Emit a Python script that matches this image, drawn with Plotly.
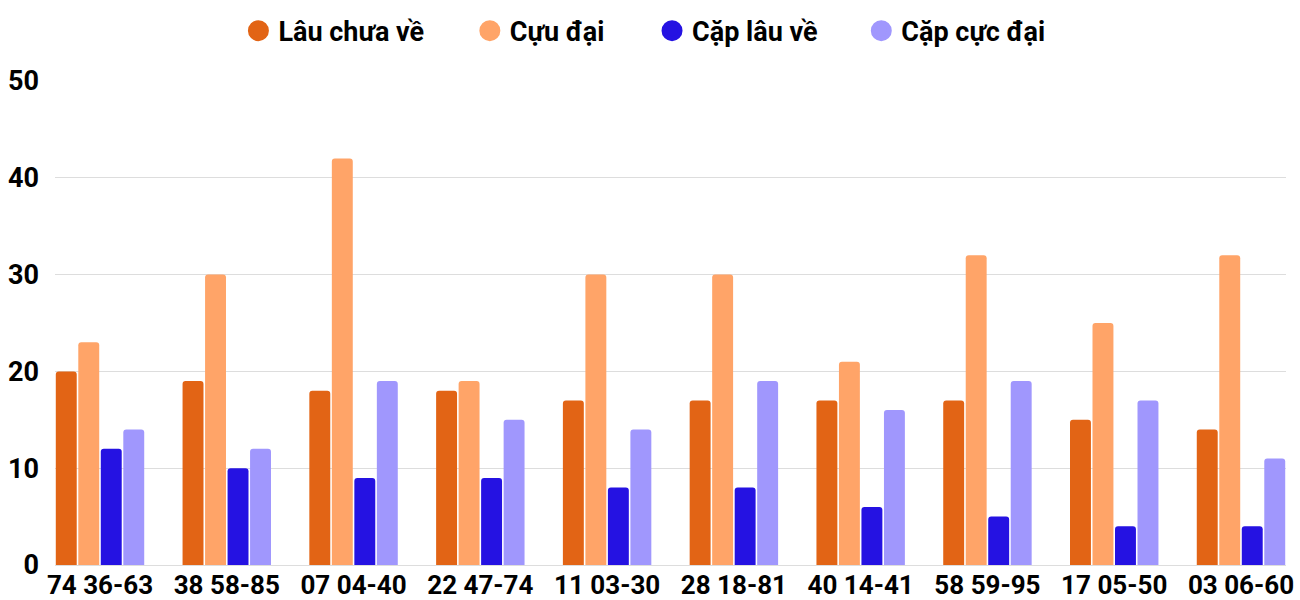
import plotly.graph_objects as go

categories = ["74 36-63", "38 58-85", "07 04-40", "22 47-74", "11 03-30",
              "28 18-81", "40 14-41", "58 59-95", "17 05-50", "03 06-60"]
lau_chua_ve = [20, 19, 18, 18, 17, 17, 17, 17, 15, 14]
cuc_dai = [23, 30, 42, 19, 30, 30, 21, 32, 25, 32]
cap_lau_ve = [12, 10, 9, 9, 8, 8, 6, 5, 4, 4]
cap_cuc_dai = [14, 12, 19, 15, 14, 19, 16, 19, 17, 11]

series_names = ["Lâu chưa về", "Cựu đại", "Cặp lâu về", "Cặp cực đại"]
series_values = [lau_chua_ve, cuc_dai, cap_lau_ve, cap_cuc_dai]
colors = ["#E26415", "#FFA468", "#2512E2", "#A097FD"]
legend_ids = ["legend", "legend2", "legend3", "legend4"]
legend_x = [0.149, 0.337, 0.485, 0.655]

FONT = "Roboto"

fig = go.Figure()
for name, vals, col in zip(series_names, series_values, colors):
    fig.add_trace(go.Bar(
        x=categories, y=vals, name=name, marker_color=col,
        marker_line_width=0, showlegend=False,
    ))
for name, col, lid in zip(series_names, colors, legend_ids):
    fig.add_trace(go.Scatter(
        x=[None], y=[None], mode="markers", name=name, legend=lid,
        marker=dict(symbol="circle", size=16, color=col,
                    line=dict(width=5, color=col)),
        showlegend=True,
    ))

leg_common = dict(
    orientation="h", xanchor="left", y=1.103, yanchor="middle",
    font=dict(family=FONT, size=27, weight="bold", color="black"),
    bgcolor="rgba(0,0,0,0)",
)
legends = {}
for lid, lx in zip(legend_ids, legend_x):
    legends[lid] = dict(leg_common, x=lx)

fig.update_layout(
    width=1300, height=600,
    margin=dict(l=55, r=14, t=81, b=35, autoexpand=False),
    paper_bgcolor="white", plot_bgcolor="white",
    barmode="group", bargap=0.29, bargroupgap=0.07,
    barcornerradius=3,
    font=dict(family=FONT, color="black"),
    xaxis=dict(
        type="category", categoryorder="array", categoryarray=categories,
        range=[-0.355, 9.355], automargin=False,
        tickfont=dict(family=FONT, size=26, weight="bold", color="black"),
        showgrid=False, ticks="", showline=False, ticklabelstandoff=2,
    ),
    yaxis=dict(
        range=[0, 50], tickvals=[0, 10, 20, 30, 40, 50], automargin=False,
        tickfont=dict(family=FONT, size=27, weight="bold", color="black"),
        showgrid=True, gridcolor="#DDDDDD", gridwidth=1,
        zeroline=True, zerolinecolor="#DDDDDD", zerolinewidth=1,
        ticks="", ticklen=0, ticklabelstandoff=15,
    ),
    **legends,
)

fig.write_html("out.html")
